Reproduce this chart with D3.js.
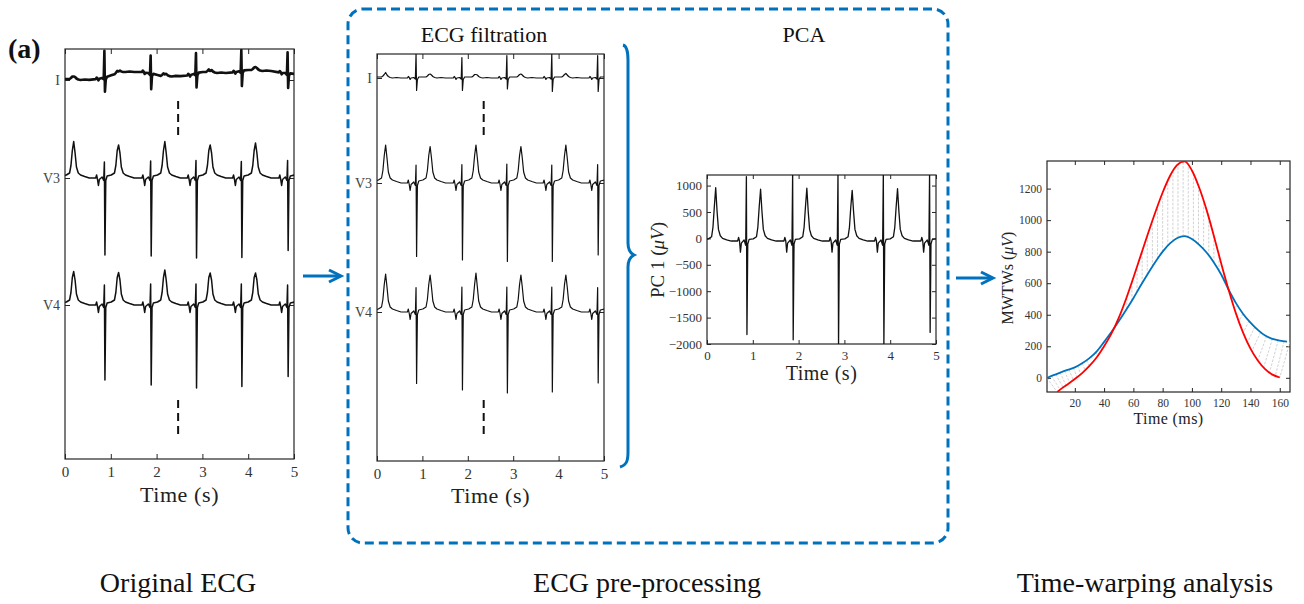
<!DOCTYPE html>
<html>
<head>
<meta charset="utf-8">
<script src="https://cdn.jsdelivr.net/npm/d3@7"></script>
<style>
  body { margin: 0; background: #fff; }
  svg text { font-family: "Liberation Serif", "Times New Roman", serif; }
</style>
</head>
<body>
<div id="fig"></div>
<script>
// ---------- data ----------
// QRS times (s); the first one is off-chart, only its T wave shows
var qrsTimes = [-0.12, 0.86, 1.87, 2.86, 3.85, 4.86];
// beat template: offsets from the R peak (s). index 7 = R, 8 = S, 15 = T
var beatDt = [-0.19, -0.17, -0.15, -0.13, -0.11, -0.05, -0.015, 0, 0.012, 0.03, 0.06, 0.15, 0.22, 0.25, 0.28, 0.31, 0.34, 0.37, 0.41, 0.46, 0.55, 0.65];
var shapeI  = [0, 0.03, 0.01, -0.03, 0, 0.01, -0.02, 0.45, -0.27, -0.03, 0.02, 0.02, 0.02, 0.04, 0.07, 0.1, 0.06, 0.03, 0.01, 0, 0.01, 0];
var shapeV  = [0, 0.06, -0.03, -0.15, -0.03, 0.02, -0.05, 0.35, -1.5, -0.05, 0.04, 0.06, 0.1, 0.25, 0.55, 0.74, 0.5, 0.22, 0.1, 0.06, 0.03, 0];
var shapePC = [0, 70, 0, -210, -40, 20, -80, 1250, -1850, -60, 30, 40, 80, 260, 650, 1000, 560, 220, 100, 50, 20, 0];

// lead names and baselines (mV offsets)
var leadNames = ["I", "V3", "V4"];
var origBase = [-0.62, -2.58, -5.12];
var filtBase = [-0.48, -2.58, -5.16];

// original ECG, per beat R / S / T amplitudes (mV)
var origI_R = [0.5, 0.55, 0.37, 0.42, 0.43, 0.43];
var origI_S = [-0.28, -0.27, -0.3, -0.27, -0.29, -0.28];
var origI_T = [0.07, 0.05, 0.05, 0.04, 0.08, 0.05];
var origV3_R = [0.33, 0.32, 0.34, 0.35, 0.33, 0.35];
var origV3_S = [-1.5, -1.54, -1.56, -1.6, -1.59, -1.45];
var origV3_T = [0.73, 0.66, 0.73, 0.66, 0.7, 0.7];
var origV4_R = [0.4, 0.4, 0.42, 0.42, 0.42, 0.4];
var origV4_S = [-1.5, -1.5, -1.6, -1.66, -1.63, -1.43];
var origV4_T = [0.67, 0.65, 0.7, 0.64, 0.64, 0.64];
// baseline wander of original lead I
var wanderT = [0, 0.5, 0.9, 1.3, 1.7, 2.1, 2.6, 3.0, 3.5, 4.0, 4.5, 5.0];
var wanderV = [0, 0, 0.04, 0.16, 0.16, 0.06, 0.08, 0.14, 0.14, 0.18, 0.18, 0.1];

// filtered ECG
var filtI_R = [0.46, 0.48, 0.41, 0.45, 0.48, 0.45];
var filtI_S = [-0.25, -0.25, -0.25, -0.22, -0.27, -0.27];
var filtI_T = [0.11, 0.08, 0.07, 0.08, 0.09, 0.08];
var filtV3_R = [0.36, 0.36, 0.37, 0.38, 0.36, 0.37];
var filtV3_S = [-1.47, -1.47, -1.54, -1.57, -1.57, -1.44];
var filtV3_T = [0.76, 0.73, 0.76, 0.73, 0.76, 0.76];
var filtV4_R = [0.49, 0.49, 0.5, 0.5, 0.5, 0.49];
var filtV4_S = [-1.43, -1.43, -1.56, -1.62, -1.6, -1.42];
var filtV4_T = [0.76, 0.74, 0.78, 0.74, 0.74, 0.74];

// PCA (uV)
var pcaBase = -50;
var pca_R = [1250, 1220, 1300, 1300, 1300, 1300];
var pca_S = [-1800, -1770, -1870, -1980, -1980, -1730];
var pca_T = [1010, 980, 1000, 960, 990, 990];
var pcaTicks = [-2000, -1500, -1000, -500, 0, 500, 1000];
var secTicks = [0, 1, 2, 3, 4, 5];

// MWTWs (uV) vs time (ms)
var blueTime = [0, 5, 10, 15, 20, 25, 30, 35, 40, 45, 50, 55, 60, 65, 70, 75, 80, 85, 90, 95, 100, 105, 110, 115, 120, 125, 130, 135, 140, 145, 150, 155, 160, 165];
var mwtwBlue = [-5, 15, 33, 50, 66, 92, 125, 168, 228, 290, 358, 430, 505, 585, 662, 735, 800, 852, 887, 898, 880, 843, 795, 732, 655, 560, 475, 405, 350, 304, 268, 247, 236, 230];
var redTime = [5, 10, 15, 20, 25, 30, 35, 40, 45, 50, 55, 60, 65, 70, 75, 80, 85, 90, 95, 100, 105, 110, 115, 120, 125, 130, 135, 140, 145, 150, 155, 160];
var mwtwRed = [-115, -75, -42, -8, 30, 75, 130, 200, 280, 380, 500, 635, 775, 915, 1050, 1175, 1280, 1350, 1372, 1315, 1205, 1065, 900, 725, 560, 410, 285, 185, 110, 55, 20, 2];
// warping path (pairs of times, ms)
var warpBlueT = [1, 4, 7, 10, 13, 16, 19, 22, 25, 28, 31, 34, 37, 40, 44, 48, 52, 55.5, 59, 62.5, 66, 69.5, 73, 76.5, 80, 83.5, 87, 90.5, 94, 97.5, 101, 104.5, 108, 111.5, 115, 118.5, 122, 131, 135, 139, 143, 147, 151, 155, 159, 163, 167];
var warpRedT  = [8, 10, 12, 14, 16.5, 19, 21.5, 24, 27, 30, 33, 36, 39, 42, 45.5, 49, 52, 55.5, 59, 62.5, 66, 69.5, 73, 76.5, 80, 83.5, 87, 90.5, 94, 97.5, 101, 104.5, 108, 111.5, 115, 118.5, 122, 129, 132, 135, 138, 141, 145, 149, 153, 157, 160];
var msXTicks = [20, 40, 60, 80, 100, 120, 140, 160];
var mwtwYTicks = [0, 200, 400, 600, 800, 1000, 1200];

// ---------- figure ----------
var W = 1304, H = 604;
var blue = "#0072BD";
var serif = "'Liberation Serif', 'Times New Roman', serif";
var svg = d3.select("#fig").append("svg").attr("width", W).attr("height", H);

function buildTrace(shape, rArr, sArr, tArr, base, wT, wV) {
  var wander = wT ? d3.scaleLinear().domain(wT).range(wV).clamp(true) : function () { return 0; };
  var pts = [];
  qrsTimes.forEach(function (q, b) {
    beatDt.forEach(function (dt, k) {
      var v = shape[k];
      if (k === 7) v = rArr[b];
      if (k === 8) v = sArr[b];
      if (k === 15) v = tArr[b];
      var t = q + dt;
      pts.push([t, base + v + wander(t)]);
    });
  });
  return pts;
}

var clipN = 0;
function addClip(x, y) {
  var id = "clip" + (clipN++);
  svg.append("clipPath").attr("id", id).append("rect")
    .attr("x", x.range()[0]).attr("y", y.range()[1])
    .attr("width", x.range()[1] - x.range()[0]).attr("height", y.range()[0] - y.range()[1]);
  return "url(#" + id + ")";
}

// box + inner ticks on all four sides, labels bottom/left
function frame(x, y, xt, yt, yFormat, fs, tick) {
  var g = svg.append("g");
  var x0 = x.range()[0], x1 = x.range()[1], y0 = y.range()[0], y1 = y.range()[1];
  var bottom = g.append("g").attr("transform", "translate(0," + y0 + ")")
    .call(d3.axisBottom(x).tickValues(xt).tickSizeInner(-tick).tickSizeOuter(0).tickPadding(7).tickFormat(d3.format("d")));
  g.append("g").attr("transform", "translate(0," + y1 + ")")
    .call(d3.axisTop(x).tickValues(xt).tickSizeInner(-tick).tickSizeOuter(0).tickFormat(""));
  var left = g.append("g").attr("transform", "translate(" + x0 + ",0)")
    .call(d3.axisLeft(y).tickValues(yt).tickSizeInner(-tick).tickSizeOuter(0).tickPadding(5).tickFormat(yFormat));
  g.append("g").attr("transform", "translate(" + x1 + ",0)")
    .call(d3.axisRight(y).tickValues(yt).tickSizeInner(-tick).tickSizeOuter(0).tickFormat(""));
  g.selectAll(".domain").remove();
  g.selectAll(".tick line").attr("stroke", "#262626").attr("stroke-width", 1);
  g.selectAll(".tick text").attr("fill", "#333").style("font-family", serif).style("font-size", fs + "px");
  g.append("rect").attr("x", x0).attr("y", y1).attr("width", x1 - x0).attr("height", y0 - y1)
    .attr("fill", "none").attr("stroke", "#262626").attr("stroke-width", 1.2);
  return { bottom: bottom, left: left };
}

var line = d3.line();

// ---------- panel 1: original ECG ----------
var x1s = d3.scaleLinear().domain([0, 5]).range([65, 294]);
var y1s = d3.scaleLinear().domain([-8.2, 0]).range([459, 49]);
var f1 = frame(x1s, y1s, secTicks, origBase, function (d, i) { return leadNames[i]; }, 15, 5);
f1.left.selectAll(".tick text").style("font-size", "14px").attr("fill", "#444");
var origTraces = [
  buildTrace(shapeI, origI_R, origI_S, origI_T, origBase[0], wanderT, wanderV),
  buildTrace(shapeV, origV3_R, origV3_S, origV3_T, origBase[1]),
  buildTrace(shapeV, origV4_R, origV4_S, origV4_T, origBase[2])
];
var c1 = addClip(x1s, y1s);
svg.append("g").attr("clip-path", c1).selectAll("path").data(origTraces).enter().append("path")
  .attr("d", function (d) { return line(d.map(function (p) { return [x1s(p[0]), y1s(p[1])]; })); })
  .attr("fill", "none").attr("stroke", "#111")
  .attr("stroke-width", function (d, i) { return i === 0 ? 2.6 : 1.5; })
  .attr("stroke-linejoin", "round");
// "more leads" dashes
[[-1.04, -1.76], [-7.02, -7.72]].forEach(function (s) {
  svg.append("line").attr("x1", x1s(2.47)).attr("x2", x1s(2.47)).attr("y1", y1s(s[0])).attr("y2", y1s(s[1]))
    .attr("stroke", "#111").attr("stroke-width", 2).attr("stroke-dasharray", "8,5");
});
svg.append("text").attr("x", (65 + 294) / 2).attr("y", 502).attr("text-anchor", "middle")
  .style("font-size", "22px").style("letter-spacing", "0.6px").attr("fill", "#222").text("Time (s)");

// ---------- panel 2: filtered ECG ----------
var x2s = d3.scaleLinear().domain([0, 5]).range([377, 604]);
var y2s = d3.scaleLinear().domain([-8.14, 0]).range([461, 54]);
var f2 = frame(x2s, y2s, secTicks, filtBase, function (d, i) { return leadNames[i]; }, 15, 5);
f2.left.selectAll(".tick text").style("font-size", "14px").attr("fill", "#444");
var filtTraces = [
  buildTrace(shapeI, filtI_R, filtI_S, filtI_T, filtBase[0]),
  buildTrace(shapeV, filtV3_R, filtV3_S, filtV3_T, filtBase[1]),
  buildTrace(shapeV, filtV4_R, filtV4_S, filtV4_T, filtBase[2])
];
var c2 = addClip(x2s, y2s);
svg.append("g").attr("clip-path", c2).selectAll("path").data(filtTraces).enter().append("path")
  .attr("d", function (d) { return line(d.map(function (p) { return [x2s(p[0]), y2s(p[1])]; })); })
  .attr("fill", "none").attr("stroke", "#111").attr("stroke-width", 1.2).attr("stroke-linejoin", "round");
[[-0.94, -1.64], [-6.92, -7.62]].forEach(function (s) {
  svg.append("line").attr("x1", x2s(2.35)).attr("x2", x2s(2.35)).attr("y1", y2s(s[0])).attr("y2", y2s(s[1]))
    .attr("stroke", "#111").attr("stroke-width", 2).attr("stroke-dasharray", "8,5");
});
svg.append("text").attr("x", (377 + 604) / 2).attr("y", 503).attr("text-anchor", "middle")
  .style("font-size", "22px").style("letter-spacing", "0.6px").attr("fill", "#222").text("Time (s)");
svg.append("text").attr("x", 484).attr("y", 42).attr("text-anchor", "middle")
  .style("font-size", "22px").attr("fill", "#111").text("ECG filtration");

// ---------- panel 3: PCA ----------
var x3s = d3.scaleLinear().domain([0, 5]).range([707, 936]);
var y3s = d3.scaleLinear().domain([-2000, 1200]).range([344, 175]);
frame(x3s, y3s, secTicks, pcaTicks, d3.format("d"), 13, 4);
var c3 = addClip(x3s, y3s);
var pcaTrace = buildTrace(shapePC, pca_R, pca_S, pca_T, pcaBase);
svg.append("path").attr("clip-path", c3)
  .attr("d", line(pcaTrace.map(function (p) { return [x3s(p[0]), y3s(p[1])]; })))
  .attr("fill", "none").attr("stroke", "#111").attr("stroke-width", 1.3).attr("stroke-linejoin", "round");
svg.append("text").attr("x", (707 + 936) / 2).attr("y", 380).attr("text-anchor", "middle")
  .style("font-size", "20px").style("letter-spacing", "0.5px").attr("fill", "#222").text("Time (s)");
var pcLab = svg.append("text").attr("transform", "translate(664,260) rotate(-90)").attr("text-anchor", "middle")
  .style("font-size", "19px").attr("fill", "#222");
pcLab.append("tspan").text("PC 1 (");
pcLab.append("tspan").style("font-style", "italic").text("\u03BCV");
pcLab.append("tspan").text(")");
svg.append("text").attr("x", 804).attr("y", 42).attr("text-anchor", "middle")
  .style("font-size", "22px").attr("fill", "#111").text("PCA");

// ---------- panel 4: time warping ----------
var x4s = d3.scaleLinear().domain([1, 167]).range([1047, 1290]);
var y4s = d3.scaleLinear().domain([-90, 1375]).range([392, 161]);
frame(x4s, y4s, msXTicks, mwtwYTicks, d3.format("d"), 11.5, 4);
var c4 = addClip(x4s, y4s);
var blueAt = d3.scaleLinear().domain(blueTime).range(mwtwBlue);
var redAt = d3.scaleLinear().domain(redTime).range(mwtwRed);
var g4 = svg.append("g").attr("clip-path", c4);
g4.selectAll("line.warp").data(warpBlueT).enter().append("line").attr("class", "warp")
  .attr("x1", function (d) { return x4s(d); })
  .attr("y1", function (d) { return y4s(blueAt(d)); })
  .attr("x2", function (d, i) { return x4s(warpRedT[i]); })
  .attr("y2", function (d, i) { return y4s(redAt(warpRedT[i])); })
  .attr("stroke", "#bdbdbd").attr("stroke-width", 0.7).attr("stroke-dasharray", "2.5,1.5");
var smooth = d3.line().curve(d3.curveMonotoneX).x(function (d) { return x4s(d[0]); }).y(function (d) { return y4s(d[1]); });
g4.append("path").attr("d", smooth(blueTime.map(function (t, i) { return [t, mwtwBlue[i]]; })))
  .attr("fill", "none").attr("stroke", blue).attr("stroke-width", 1.8);
g4.append("path").attr("d", smooth(redTime.map(function (t, i) { return [t, mwtwRed[i]]; })))
  .attr("fill", "none").attr("stroke", "#ff0000").attr("stroke-width", 1.8);
svg.append("text").attr("x", (1047 + 1290) / 2).attr("y", 424).attr("text-anchor", "middle")
  .style("font-size", "16px").style("letter-spacing", "0.4px").attr("fill", "#222").text("Time (ms)");
var mwLab = svg.append("text").attr("transform", "translate(1013,278) rotate(-90)").attr("text-anchor", "middle")
  .style("font-size", "16px").attr("fill", "#222");
mwLab.append("tspan").text("MWTWs (");
mwLab.append("tspan").style("font-style", "italic").text("\u03BCV");
mwLab.append("tspan").text(")");

// ---------- decorations ----------
svg.append("rect").attr("x", 348).attr("y", 9).attr("width", 600).attr("height", 534).attr("rx", 15)
  .attr("fill", "none").attr("stroke", blue).attr("stroke-width", 3).attr("stroke-dasharray", "9,5");
svg.append("path")
  .attr("d", "M623,45 C627,46 628,52 628,60 L628,243 C628,249 630,253 634,255 C630,257 628,261 628,267 L628,452 C628,460 627,465 620,467")
  .attr("fill", "none").attr("stroke", blue).attr("stroke-width", 3);
[[303, 341, 276], [956, 993, 278]].forEach(function (a) {
  svg.append("path").attr("d", "M" + a[0] + "," + a[2] + " L" + (a[1] - 1) + "," + a[2])
    .attr("stroke", blue).attr("stroke-width", 3).attr("fill", "none");
  svg.append("path").attr("d", "M" + (a[1] - 12) + "," + (a[2] - 6) + " L" + a[1] + "," + a[2] + " L" + (a[1] - 12) + "," + (a[2] + 6))
    .attr("stroke", blue).attr("stroke-width", 3).attr("fill", "none");
});
svg.append("text").attr("x", 8).attr("y", 58).style("font-size", "28px").style("font-weight", "bold")
  .attr("fill", "#111").text("(a)");
var captions = [["Original ECG", 178], ["ECG pre-processing", 647], ["Time-warping analysis", 1145]];
svg.selectAll("text.cap").data(captions).enter().append("text").attr("class", "cap")
  .attr("x", function (d) { return d[1]; }).attr("y", 592).attr("text-anchor", "middle")
  .style("font-size", "28px").attr("fill", "#111").text(function (d) { return d[0]; });
</script>
</body>
</html>
